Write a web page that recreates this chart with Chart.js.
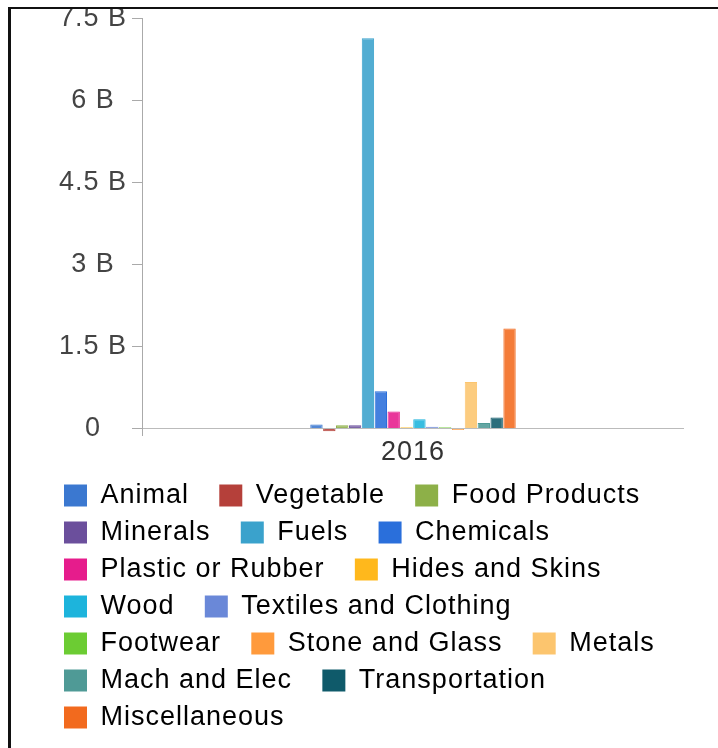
<!DOCTYPE html>
<html>
<head>
<meta charset="utf-8">
<script src="https://cdn.jsdelivr.net/npm/chart.js@4"></script>
<style>
  body { margin: 0; background: #fff; }
  #frame {
    position: absolute; left: 8px; top: 7px; width: 710px; height: 741px;
    border-left: 3px solid #111; border-top: 2px solid #111;
    box-sizing: border-box; overflow: hidden; background: #fff;
  }
  #inner { position: absolute; left: -11px; top: -9px; width: 718px; height: 748px; }
</style>
</head>
<body>
<div id="frame"><div id="inner"><canvas id="c" width="718" height="748"></canvas></div></div>
<script>
// ── data ─────────────────────────────────────────────────────────────
const CATEGORIES = ["2016"];
const SERIES_NAMES = [
  "Animal", "Vegetable", "Food Products", "Minerals", "Fuels", "Chemicals",
  "Plastic or Rubber", "Hides and Skins", "Wood", "Textiles and Clothing",
  "Footwear", "Stone and Glass", "Metals", "Mach and Elec", "Transportation",
  "Miscellaneous",
];
const SERIES_VALUES = [
  0.07e9, -0.05e9, 0.06e9, 0.06e9, 7.14e9, 0.68e9,
  0.31e9, 0.02e9, 0.17e9, 0.03e9,
  0.02e9, -0.03e9, 0.85e9, 0.10e9, 0.20e9,
  1.83e9,
];
const Y_TICKS = [0, 1.5e9, 3e9, 4.5e9, 6e9, 7.5e9];

const SERIES_COLORS = [
  "#3b78d0", "#b5403a", "#8db048", "#6b4f9c", "#3aa2cc", "#2a6fdb",
  "#e61c8c", "#ffb81c", "#1db4dc", "#6a88d8",
  "#6ccc33", "#ff9a3c", "#fcc56e", "#4f9a96", "#0f5a6a",
  "#f26a1e",
];

// ── helpers ──────────────────────────────────────────────────────────
function lighten(hex, k) {
  const [r, g, b] = [1, 3, 5].map((i) => parseInt(hex.slice(i, i + 2), 16));
  const f = (v) => Math.round(v + (255 - v) * k);
  return `rgb(${f(r)},${f(g)},${f(b)})`;
}

Chart.defaults.font.family = "'Liberation Sans', Arial, sans-serif";
Chart.defaults.font.size = 27;

// wider glyph spacing, like the reference rendering
const spacing = {
  id: "spacing",
  beforeLayout(chart) { chart.ctx.letterSpacing = "1px"; },
  beforeDraw(chart) { chart.ctx.letterSpacing = "1px"; },
};

const datasets = SERIES_NAMES.map((name, i) => ({
  label: name,
  data: [SERIES_VALUES[i]],
  backgroundColor: lighten(SERIES_COLORS[i], 0.12),
  borderColor: SERIES_COLORS[i],
  borderWidth: 1,
  categoryPercentage: 0.38,
  barPercentage: 0.96,
}));

new Chart(document.getElementById("c"), {
  type: "bar",
  data: { labels: CATEGORIES, datasets },
  plugins: [spacing],
  options: {
    responsive: false,
    animation: false,
    layout: { padding: { left: 54, right: 20, top: 0, bottom: 7 } },
    plugins: {
      tooltip: { enabled: false },
      legend: {
        position: "bottom",
        align: "start",
        labels: {
          boxWidth: 23,
          boxHeight: 22,
          padding: 10,
          color: "#3a3a3a",
          font: { size: 27 },
          generateLabels: (chart) =>
            chart.data.datasets.map((ds, i) => ({
              text: ds.label + "  \u200A",
              fillStyle: SERIES_COLORS[i],
              strokeStyle: SERIES_COLORS[i],
              lineWidth: 0,
              hidden: false,
              datasetIndex: i,
            })),
        },
      },
    },
    scales: {
      x: {
        grid: { display: false, drawTicks: false },
        border: { display: false },
        ticks: { color: "#333", font: { size: 27 }, padding: 1 },
        afterFit: (s) => { s.height = 37; },
      },
      y: {
        min: -0.12e9,
        max: 7.5e9,
        afterBuildTicks: (s) => { s.ticks = Y_TICKS.map((v) => ({ value: v })); },
        afterFit: (s) => { s.width = 88; },
        border: { display: true, color: "#aaa" },
        grid: {
          color: (c) => (c.tick && c.tick.value === 0 ? "#bbb" : "rgba(0,0,0,0)"),
          tickColor: "#aaa",
          tickLength: 10,
        },
        ticks: {
          crossAlign: "center",
          padding: 5,
          color: "#444",
          font: { size: 27, lineHeight: 1.0 },
          callback: (v) => (v === 0 ? "0" : v / 1e9 + " B"),
        },
      },
      yR: {
        type: "linear",
        axis: "y",
        position: "right",
        grid: { display: false },
        border: { display: false },
        ticks: { display: false },
        afterFit: (s) => { s.width = 14; },
      },
    },
  },
});
</script>
</body>
</html>
